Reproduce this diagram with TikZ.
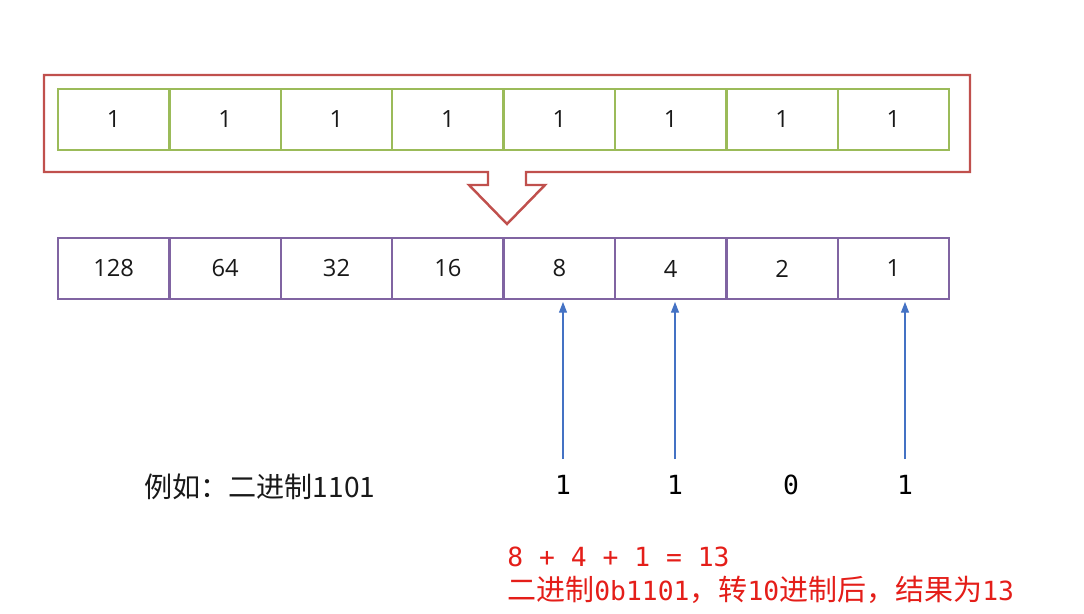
\documentclass[tikz,border=0pt]{standalone}
\usepackage{fontspec}
\setmainfont{Open Sans}
\newfontfamily\cjk{Noto Sans CJK SC}
\newfontfamily\mono{DejaVu Sans Mono}
\usepackage{tikz}
\usetikzlibrary{arrows.meta, positioning, calc}
\definecolor{FrameRed}{RGB}{192, 80, 77}
\definecolor{BitGreen}{RGB}{155, 187, 89}
\definecolor{WeightPurple}{RGB}{128, 100, 162}
\definecolor{PointBlue}{RGB}{68, 114, 196}
\definecolor{ResultRed}{RGB}{228, 30, 25}
\definecolor{TextGray}{RGB}{25, 25, 25}

\begin{document}
\begin{tikzpicture}[
            bitcell/.style={draw=BitGreen, line width=1.4pt, minimum width=2.228cm, minimum height=1.22cm, inner sep=0pt, font=\fontsize{13.5}{15}\selectfont, text=TextGray},
            weightcell/.style={draw=WeightPurple, line width=1.4pt, minimum width=2.228cm, minimum height=1.22cm, inner sep=0pt, font=\fontsize{13.5}{15}\selectfont, text=TextGray},
            digit/.style={font=\mono\fontsize{15}{17}\selectfont, text=black, inner sep=1pt},
            pointer/.style={draw=PointBlue, line width=0.6pt, -{Triangle[length=6pt, width=4.5pt]}, shorten <=8pt, shorten >=1pt}
        ]
        \useasboundingbox (0,0) rectangle (21.68,-12.28);

        % The frame with its arrow
        \draw[FrameRed, line width=1.4pt, line join=miter]
            (0.88,-1.5) -- (19.4,-1.5) -- (19.4,-3.44) -- (10.52,-3.44) -- (10.52,-3.70)
            -- (10.90,-3.70) -- (10.14,-4.48) -- (9.38,-3.70) -- (9.76,-3.70)
            -- (9.76,-3.44) -- (0.88,-3.44) -- cycle;

        % The bits
        \node[bitcell] (g1) at (2.274,-2.39) {1};
        \node[bitcell] (g2) at (4.502,-2.39) {1};
        \node[bitcell] (g3) at (6.730,-2.39) {1};
        \node[bitcell] (g4) at (8.958,-2.39) {1};
        \node[bitcell] (g5) at (11.186,-2.39) {1};
        \node[bitcell] (g6) at (13.414,-2.39) {1};
        \node[bitcell] (g7) at (15.642,-2.39) {1};
        \node[bitcell] (g8) at (17.870,-2.39) {1};

        % The weights
        \node[weightcell] (w1) at (2.274,-5.37) {128};
        \node[weightcell] (w2) at (4.502,-5.37) {64};
        \node[weightcell] (w3) at (6.730,-5.37) {32};
        \node[weightcell] (w4) at (8.958,-5.37) {16};
        \node[weightcell] (w5) at (11.186,-5.37) {8};
        \node[weightcell] (w6) at (13.414,-5.37) {4};
        \node[weightcell] (w7) at (15.642,-5.37) {2};
        \node[weightcell] (w8) at (17.870,-5.37) {1};

        % Example digits
        \node[anchor=west, font=\cjk\fontsize{16}{18}\selectfont, text=TextGray] (example) at (2.76,-9.74) {例如：二进制1101};
        \node[digit] (d1) at (11.26,-9.70) {1};
        \node[digit] (d2) at (13.50,-9.70) {1};
        \node[digit] (d3) at (15.82,-9.70) {0};
        \node[digit] (d4) at (18.10,-9.70) {1};

        \draw[pointer] (d1.north) -- (d1.north |- w5.south);
        \draw[pointer] (d2.north) -- (d2.north |- w6.south);
        \draw[pointer] (d4.north) -- (d4.north |- w8.south);

        % Result
        \node[anchor=west, text=ResultRed, inner sep=0pt, font=\mono\fontsize{15}{17}\selectfont] (sum) at (10.14,-11.14) {8 + 4 + 1 = 13};
        \node[anchor=west, text=ResultRed, inner sep=0pt, font=\fontsize{15}{17}\selectfont] (result) at (10.14,-11.80)
            {{\cjk\fontsize{16.5}{18}\selectfont 二进制}{\mono 0b1101}{\cjk\fontsize{16.5}{18}\selectfont ，转}{\mono 10}{\cjk\fontsize{16.5}{18}\selectfont 进制后，结果为}{\mono 13}};

        \end{tikzpicture}
\end{document}
